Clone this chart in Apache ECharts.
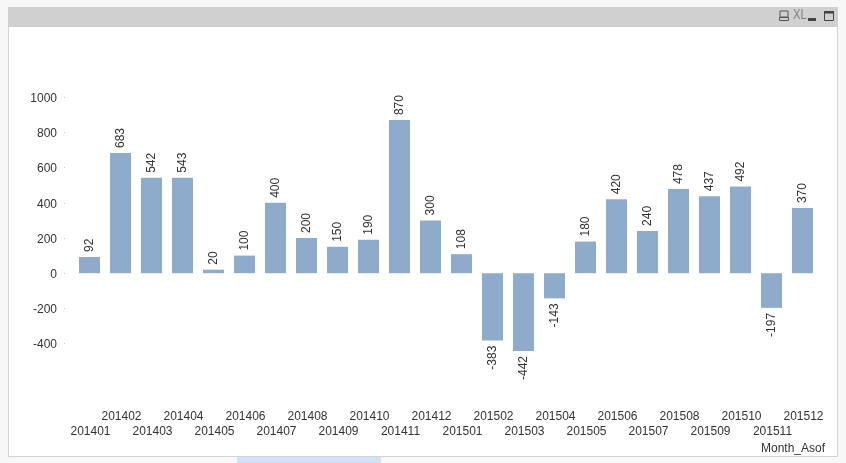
<!DOCTYPE html>
<html><head><meta charset="utf-8">
<style>html,body{margin:0;padding:0;background:#f7f7f7}#c{width:846px;height:463px}</style>
<script src="https://cdn.jsdelivr.net/npm/echarts@6/dist/echarts.min.js"></script>
</head><body><div id="c"></div>
<script>
const categories = ['201401','201402','201403','201404','201405','201406','201407','201408','201409','201410','201411','201412','201501','201502','201503','201504','201505','201506','201507','201508','201509','201510','201511','201512'];
const values = [92,683,542,543,20,100,400,200,150,190,870,300,108,-383,-442,-143,180,420,240,478,437,492,-197,370];
const yTicks = [-400,-200,0,200,400,600,800,1000];
const axisTitle = 'Month_Asof';
const font = '"Liberation Sans", Arial, sans-serif';
const textColor = '#333333';
const chart = echarts.init(document.getElementById('c'), null, {renderer:'canvas'});
chart.setOption({
  animation:false,
  backgroundColor:'#f7f7f7',
  grid:{left:74,right:28,top:97.2,height:281.6,containLabel:false},
  xAxis:{type:'category',data:categories,
    axisLine:{show:false,onZero:false},axisTick:{show:false},splitLine:{show:false},
    axisLabel:{interval:0,hideOverlap:false,margin:30,padding:[0,0,0,2],fontFamily:font,fontSize:12,color:textColor,lineHeight:15,
      formatter:(v,i)=> i%2===1 ? v+'\n ' : ' \n'+v}},
  yAxis:{type:'value',min:-600,max:1000,interval:200,offset:9,
    axisLine:{show:false},
    axisTick:{show:true,length:1,customValues:yTicks,lineStyle:{color:'#c4c4c4',width:1}},
    splitLine:{show:false},
    axisLabel:{margin:8,verticalAlign:'top',lineHeight:3,fontFamily:font,fontSize:12,color:textColor,customValues:yTicks,formatter:v=>String(v)}},
  series:[{type:'bar',
    data:values.map(v=>({value:v,label:{align:v<0?'right':'left'}})),
    barWidth:21,
    itemStyle:{color:'#8fabcc'},
    label:{show:true,position:'outside',rotate:90,verticalAlign:'middle',distance:5,fontFamily:font,fontSize:12,color:textColor}}],
  graphic:[
    {type:'rect',silent:true,z:-10,shape:{x:8.5,y:7.5,width:829,height:449},style:{fill:'#ffffff',stroke:'#d4d4d4',lineWidth:1}},
    {type:'rect',silent:true,z:-9,shape:{x:8,y:7,width:830,height:20},style:{fill:'#d0d0d0'}},
    {type:'rect',silent:true,z:-9,shape:{x:237,y:457,width:144,height:6},style:{fill:'#cfe2f7'}},
    {type:'text',silent:true,style:{x:761,y:449,text:axisTitle,font:'12px '+font,fill:textColor,textVerticalAlign:'middle'}},
    {type:'text',silent:true,x:793,y:15.5,scaleX:0.8,style:{x:0,y:0,text:'XL',font:'14px '+font,fill:'#808080',textVerticalAlign:'middle'}},
    {type:'rect',silent:true,shape:{x:780,y:11,width:8,height:6},style:{fill:'none',stroke:'#555555',lineWidth:1}},
    {type:'rect',silent:true,shape:{x:779.5,y:17.5,width:9,height:3},style:{fill:'none',stroke:'#555555',lineWidth:1}},
    {type:'rect',silent:true,shape:{x:808,y:18,width:8,height:3},style:{fill:'#444444'}},
    {type:'rect',silent:true,shape:{x:824.5,y:11.5,width:9,height:9},style:{fill:'none',stroke:'#444444',lineWidth:1}},
    {type:'rect',silent:true,shape:{x:824,y:11,width:10,height:2.5},style:{fill:'#444444'}}
  ]
});
</script></body></html>
